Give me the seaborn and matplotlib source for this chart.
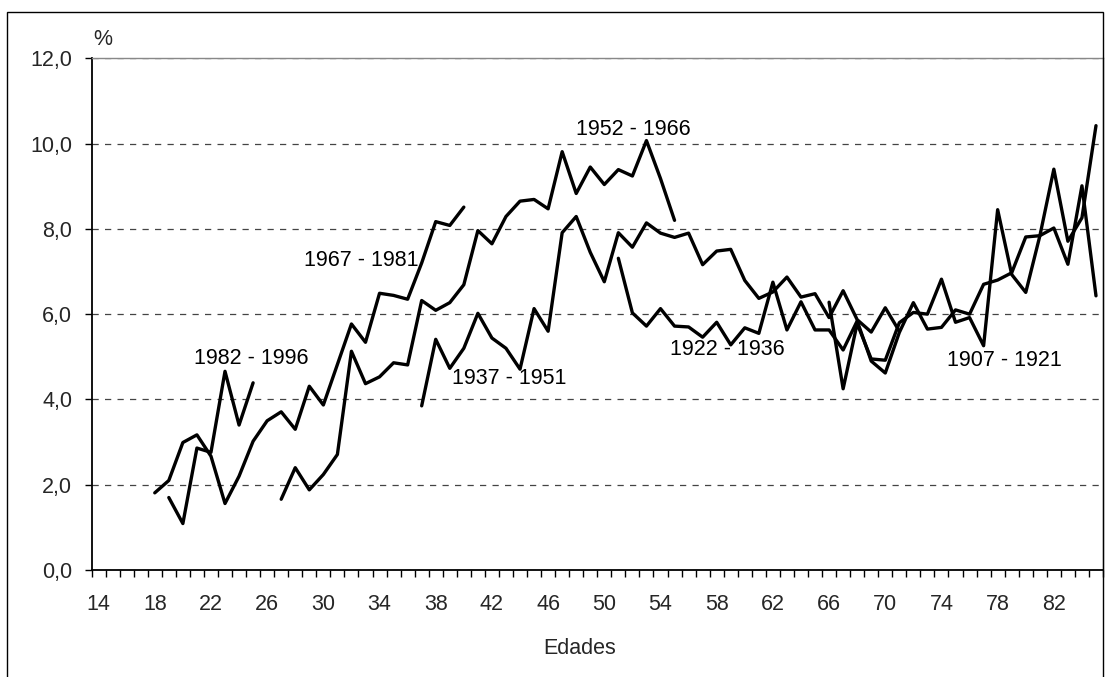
import numpy as np
import pandas as pd
import seaborn as sns
import matplotlib.pyplot as plt
from matplotlib.patches import Rectangle
from matplotlib.ticker import MultipleLocator, FixedLocator, FuncFormatter

# cohort series: ages + % values
edad_1982 = list(range(19, 26))
val_1982 = [1.70, 1.09, 2.86, 2.76, 4.66, 3.40, 4.39]

edad_1967 = list(range(18, 41))
val_1967 = [1.81, 2.10, 2.99, 3.17, 2.67, 1.56, 2.20, 3.02, 3.50, 3.71, 3.30, 4.31,
            3.87, 4.82, 5.77, 5.34, 6.49, 6.44, 6.35, 7.20, 8.17, 8.08, 8.51]

edad_1952 = list(range(27, 56))
val_1952 = [1.66, 2.40, 1.88, 2.24, 2.71, 5.13, 4.37, 4.53, 4.86, 4.81, 6.32, 6.09,
            6.27, 6.69, 7.96, 7.65, 8.29, 8.65, 8.69, 8.47, 9.81, 8.83, 9.45, 9.04,
            9.39, 9.24, 10.07, 9.18, 8.20]

edad_1937 = list(range(37, 72))
val_1937 = [3.85, 5.41, 4.73, 5.20, 6.02, 5.44, 5.20, 4.71, 6.13, 5.60, 7.91, 8.29,
            7.45, 6.76, 7.91, 7.57, 8.14, 7.90, 7.80, 7.90, 7.16, 7.48, 7.52, 6.79,
            6.37, 6.52, 6.87, 6.40, 6.48, 5.92, 6.55, 5.87, 5.58, 6.15, 5.60]

edad_1922 = list(range(51, 86))
val_1922 = [7.31, 6.03, 5.72, 6.13, 5.72, 5.70, 5.46, 5.81, 5.28, 5.68, 5.55, 6.75,
            5.63, 6.29, 5.63, 5.63, 5.16, 5.84, 4.90, 4.62, 5.57, 6.27, 5.65, 5.69,
            6.10, 6.00, 6.70, 6.80, 6.97, 7.81, 7.84, 8.02, 7.17, 9.01, 6.43]

edad_1907 = list(range(66, 86))
val_1907 = [6.28, 4.25, 5.78, 4.95, 4.92, 5.80, 6.04, 6.00, 6.82, 5.81, 5.92, 5.26,
            8.45, 6.93, 6.51, 7.83, 9.40, 7.71, 8.26, 10.42]

series = {
    "1982 - 1996": (edad_1982, val_1982),
    "1967 - 1981": (edad_1967, val_1967),
    "1952 - 1966": (edad_1952, val_1952),
    "1937 - 1951": (edad_1937, val_1937),
    "1922 - 1936": (edad_1922, val_1922),
    "1907 - 1921": (edad_1907, val_1907),
}

# where the cohort names sit (age, %)
etiquetas = {
    "1982 - 1996": (24.85, 4.97),
    "1967 - 1981": (32.7, 7.25),
    "1952 - 1966": (52.1, 10.32),
    "1937 - 1951": (43.2, 4.49),
    "1922 - 1936": (58.75, 5.17),
    "1907 - 1921": (78.5, 4.91),
}

rows = []
for nombre, (ed, vals) in series.items():
    for e, v in zip(ed, vals):
        rows.append({"serie": nombre, "edad": e, "valor": v})
df = pd.DataFrame(rows)

sns.set_style("white")
plt.rcParams["font.family"] = ["Liberation Sans", "DejaVu Sans"]

fig = plt.figure(figsize=(11.07, 6.77), dpi=100)
ax = fig.add_axes([0.0827, 0.158, 0.9137, 0.7559])

sns.lineplot(data=df, x="edad", y="valor", hue="serie", palette=["black"] * 6,
             estimator=None, legend=False, linewidth=2.4, ax=ax)

for nombre, (x, y) in etiquetas.items():
    ax.text(x, y, nombre, ha="center", va="center", fontsize=15.5, color="black")

ax.set_xlim(13.5, 85.5)
ax.set_ylim(0, 12)

ax.xaxis.set_major_locator(FixedLocator(list(range(14, 86, 4))))
ax.xaxis.set_minor_locator(FixedLocator(np.arange(13.5, 86, 1)))
ax.tick_params(axis="x", which="both", bottom=True)
ax.tick_params(axis="x", which="major", length=0, pad=17, labelsize=15.5)
ax.tick_params(axis="x", which="minor", length=5, width=1, direction="out", color="black")

ax.yaxis.set_major_locator(MultipleLocator(2))
ax.yaxis.set_major_formatter(FuncFormatter(lambda v, p: f"{v:.1f}".replace(".", ",")))
ax.tick_params(axis="y", left=True, length=5, width=1, direction="out", pad=9,
               labelsize=15.5, color="black")

ax.grid(axis="y", linestyle=(0, (5, 5)), color="#444444", linewidth=0.9)
ax.grid(axis="x", visible=False)

for s in ["left", "bottom"]:
    ax.spines[s].set_color("black")
    ax.spines[s].set_linewidth(1.3)
for s in ["top", "right"]:
    ax.spines[s].set_color("#888888")
    ax.spines[s].set_linewidth(1.0)

ax.set_xlabel("")
ax.set_ylabel("")
ax.text(14.3, 12.45, "%", ha="center", va="center", fontsize=15.5, clip_on=False)
fig.text(580 / 1107, 1 - 648 / 677, "Edades", ha="center", va="center", fontsize=15.5)

fig.add_artist(Rectangle((7 / 1107, -0.01), (1103 - 7) / 1107, 1.01 - 12 / 677,
                         transform=fig.transFigure, fill=False, edgecolor="black",
                         linewidth=1.0))

fig.savefig("out.png", dpi=100)
